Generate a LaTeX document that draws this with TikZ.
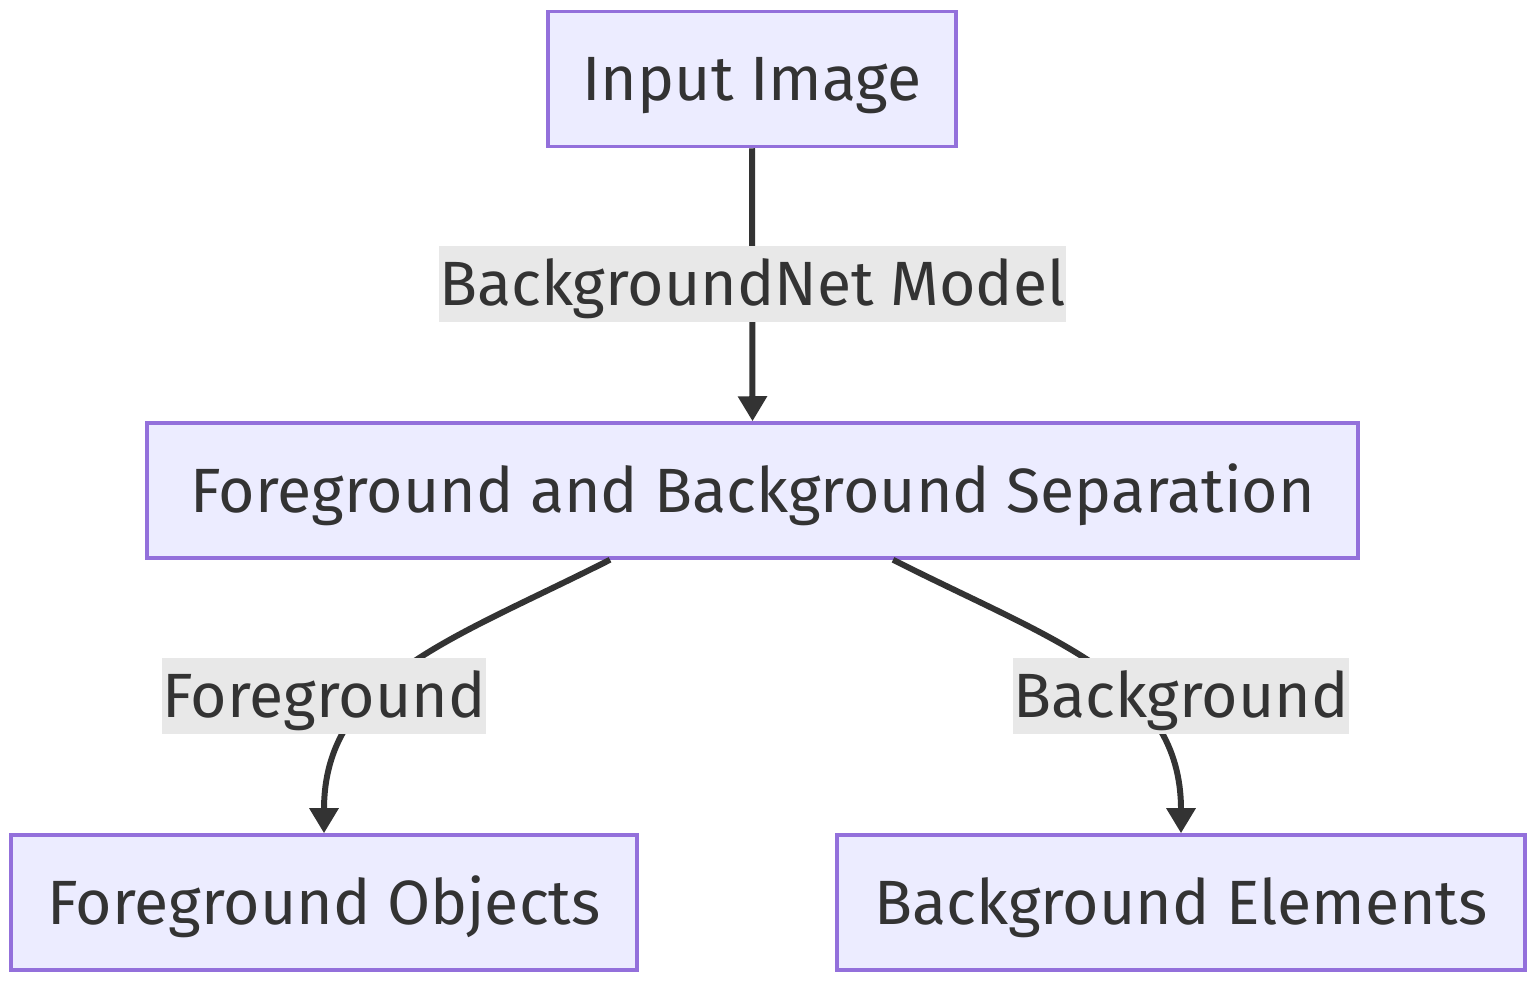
\documentclass[tikz,border=0pt]{standalone}
\usepackage{fontspec}
\setmainfont{Fira Sans}
\usepackage{tikz}
\usetikzlibrary{arrows.meta,positioning}
\usepackage{xcolor}
\definecolor{boxfill}{HTML}{ECECFF}
\definecolor{boxline}{HTML}{9370DB}
\definecolor{ink}{HTML}{333333}
\definecolor{lblfill}{HTML}{E8E8E8}

\begin{document}
\begin{tikzpicture}[
  box/.style={draw=boxline,fill=boxfill,line width=2pt,text=ink,
    minimum height=2.7cm,inner sep=0pt,text height=34pt,text depth=9pt,
    font=\fontsize{35.6}{43}\selectfont},
  lbl/.style={fill=lblfill,text=ink,minimum height=1.44cm,inner sep=0pt,
    text height=34pt,text depth=9pt,font=\fontsize{35.6}{43}\selectfont},
  edge/.style={draw=ink,line width=3.4pt,-{Triangle[length=0.5cm,width=0.56cm]}}
]
\useasboundingbox (0,0) rectangle (30.78,19.82);
% Boxes
\node[box,minimum width=8.16cm]  (in)  at (15.04,18.24) {Input Image};
\node[box,minimum width=24.22cm] (sep) at (15.05,10.01) {Foreground and Background Separation};
\node[box,minimum width=12.52cm] (fg)  at (6.48,1.77)   {Foreground Objects};
\node[box,minimum width=13.76cm] (bg)  at (23.62,1.77)  {Background Elements};
% Edges
\draw[edge] (in.south) -- (sep.north);
\draw[edge] ([xshift=-2.85cm]sep.south) .. controls +(-3.2,-1.62) and +(0,3.08) .. (fg.north);
\draw[edge] ([xshift=2.81cm]sep.south) .. controls +(3.2,-1.62) and +(0,3.08) .. (bg.north);
% Edge labels
\node[lbl,minimum width=12.38cm] (mdl) at (15.05,14.14) {BackgroundNet Model};
\node[lbl,minimum width=6.48cm]  (fgl) at (6.48,5.90)   {Foreground};
\node[lbl,minimum width=6.6cm]   (bgl) at (23.62,5.90)  {Background};
\end{tikzpicture}
\end{document}
